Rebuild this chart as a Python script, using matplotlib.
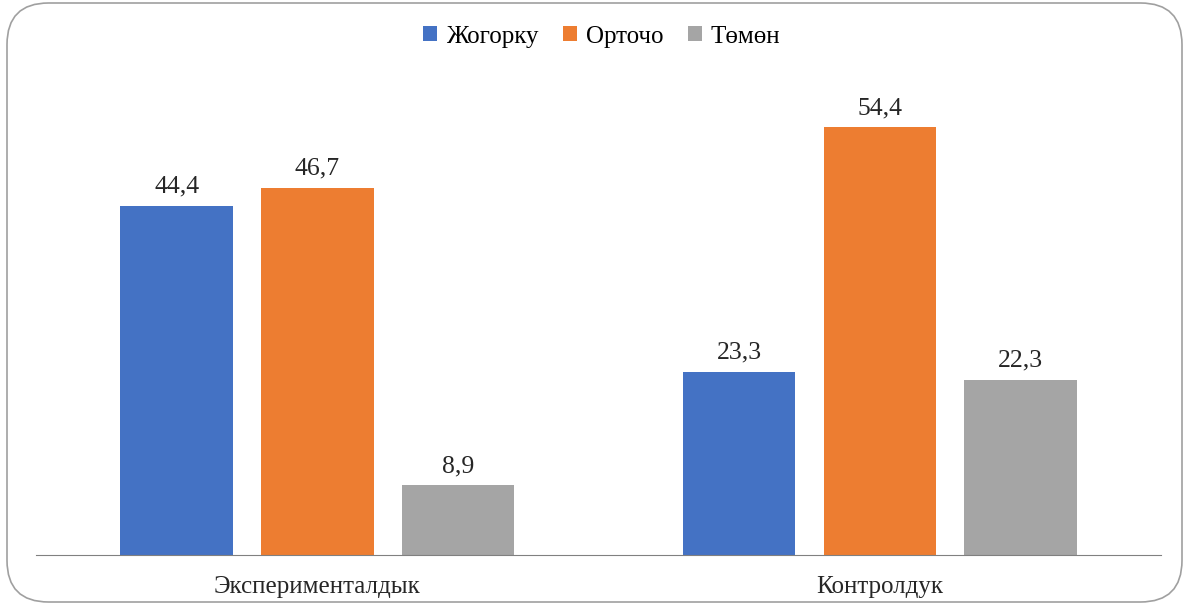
import numpy as np
import matplotlib
matplotlib.use('Agg')
import matplotlib.pyplot as plt
from matplotlib.patches import FancyBboxPatch

groups = ['Экспериментaлдык'.replace('a', 'а'), 'Контролдук']
series = ['Жогорку', 'Орточо', 'Төмөн']
high = [44.4, 23.3]
mid = [46.7, 54.4]
low = [8.9, 22.3]
colors = ['#4472C4', '#ED7D31', '#A5A5A5']

plt.rcParams['font.family'] = ['Liberation Serif', 'DejaVu Serif']

fig = plt.figure(figsize=(11.89, 6.07), dpi=100)
ax = fig.add_axes([36 / 1189, 52 / 607, 1125 / 1189, 472 / 607])

# rounded frame around the whole chart
frame = FancyBboxPatch((7 / 1189, 5 / 607), 1175 / 1189, 599 / 607,
                       boxstyle='round,pad=0,rounding_size=0.035',
                       transform=fig.transFigure, facecolor='none',
                       edgecolor='#A0A0A0', lw=1.2, mutation_aspect=1189 / 607)
fig.patches.append(frame)

x = np.arange(len(groups))
w = 0.2
for i, (vals, name) in enumerate(zip([high, mid, low], series)):
    bars = ax.bar(x + (i - 1) * 0.25, vals, w, color=colors[i], label=name)
    for b, v in zip(bars, vals):
        ax.text(b.get_x() + b.get_width() / 2, v + 1.0, str(v).replace('.', ','),
                ha='center', va='bottom', fontsize=18.5, color='#262626')

ax.set_xlim(-0.5, 1.5)
ax.set_ylim(0, 60)
ax.set_xticks(x)
ax.set_xticklabels(groups, fontsize=18, color='#262626')
ax.tick_params(axis='x', length=0, pad=15)
ax.set_yticks([])
for s in ['top', 'right', 'left']:
    ax.spines[s].set_visible(False)
ax.spines['bottom'].set_color('#808080')

fig.legend(loc='upper center', bbox_to_anchor=(0.506, 0.995), ncol=3, frameon=False,
           fontsize=18, handlelength=0.55, handleheight=0.55, handletextpad=0.35,
           columnspacing=1.0)

fig.savefig('out.png', dpi=100)
